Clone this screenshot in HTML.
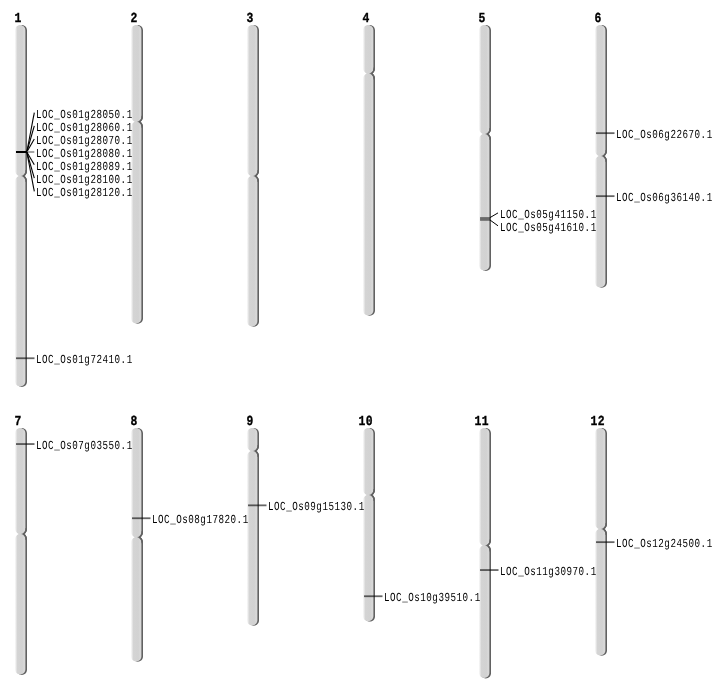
<!DOCTYPE html>
<html><head><meta charset="utf-8"><style>
html,body{margin:0;padding:0;background:#fff;width:712px;height:700px;overflow:hidden}
svg{display:block;will-change:transform;text-rendering:geometricPrecision}
.lab{font-family:"Liberation Mono",monospace;font-size:10.5px;letter-spacing:0.565px;fill:#000}
.num{font-family:"Liberation Mono",monospace;font-size:12px;letter-spacing:0.38px;font-weight:bold;fill:#000;stroke:#000;stroke-width:0.3px}
</style></head><body>
<svg width="712" height="700" viewBox="0 0 712 700">
<defs>
<linearGradient id="g" x1="0" y1="0" x2="1" y2="0">
<stop offset="0" stop-color="#fbfbfb"/>
<stop offset="0.12" stop-color="#e6e6e6"/>
<stop offset="0.24" stop-color="#d4d4d4"/>
<stop offset="0.7" stop-color="#d2d2d2"/>
<stop offset="0.85" stop-color="#d8d8d8"/>
<stop offset="1" stop-color="#d8d8d8"/>
</linearGradient>
<linearGradient id="sg" x1="0" y1="0" x2="1" y2="0">
<stop offset="0" stop-color="#626262" stop-opacity="0"/>
<stop offset="0.5" stop-color="#626262" stop-opacity="0"/>
<stop offset="0.62" stop-color="#626262" stop-opacity="1"/>
<stop offset="1" stop-color="#626262" stop-opacity="1"/>
</linearGradient>
</defs>

<clipPath id="c0"><path d="M15.00,30.20 C15.00,27.33 17.33,25.00 20.20,25.00 L21.80,25.00 C24.67,25.00 27.00,27.33 27.00,30.20 L27.00,170.90 C27.00,172.90 26.07,174.70 24.50,175.90 C26.07,177.10 27.00,178.90 27.00,180.90 L27.00,381.70 C27.00,384.57 24.67,386.90 21.80,386.90 L20.20,386.90 C17.33,386.90 15.00,384.57 15.00,381.70 L15.00,180.90 C15.00,178.90 16.37,177.10 18.70,175.90 C16.37,174.70 15.00,172.90 15.00,170.90 Z"/></clipPath>
<clipPath id="r0"><rect x="13" y="169.9" width="16" height="12"/></clipPath>
<path d="M16.60,30.20 C16.60,27.33 18.93,25.00 21.80,25.00 L21.80,25.00 C24.67,25.00 27.00,27.33 27.00,30.20 L27.00,170.90 C27.00,172.90 26.07,174.70 24.50,175.90 C26.07,177.10 27.00,178.90 27.00,180.90 L27.00,381.70 C27.00,384.57 24.67,386.90 21.80,386.90 L21.80,386.90 C18.93,386.90 16.60,384.57 16.60,381.70 L16.60,180.90 C16.60,178.90 17.97,177.10 20.30,175.90 C17.97,174.70 16.60,172.90 16.60,170.90 Z" fill="#626262"/>
<path d="M15.00,30.20 C15.00,27.33 17.33,25.00 20.20,25.00 L20.20,25.00 C23.07,25.00 25.40,27.33 25.40,30.20 L25.40,170.90 C25.40,172.90 24.66,174.70 23.40,175.90 C24.66,177.10 25.40,178.90 25.40,180.90 L25.40,381.35 C25.40,384.22 23.07,386.55 20.20,386.55 L20.20,386.55 C17.33,386.55 15.00,384.22 15.00,381.35 L15.00,180.90 C15.00,178.90 16.37,177.10 18.70,175.90 C16.37,174.70 15.00,172.90 15.00,170.90 Z" fill="url(#g)"/>
<g clip-path="url(#r0)"><path d="M15.00,30.20 C15.00,27.33 17.33,25.00 20.20,25.00 L21.80,25.00 C24.67,25.00 27.00,27.33 27.00,30.20 L27.00,170.90 C27.00,172.90 26.07,174.70 24.50,175.90 C26.07,177.10 27.00,178.90 27.00,180.90 L27.00,381.70 C27.00,384.57 24.67,386.90 21.80,386.90 L20.20,386.90 C17.33,386.90 15.00,384.57 15.00,381.70 L15.00,180.90 C15.00,178.90 16.37,177.10 18.70,175.90 C16.37,174.70 15.00,172.90 15.00,170.90 Z" fill="none" stroke="url(#sg)" stroke-width="3.2" clip-path="url(#c0)"/></g>
<text class="num" text-anchor="middle" transform="translate(18.2 22) scale(0.95 1.15)">1</text>
<clipPath id="c1"><path d="M131.00,30.20 C131.00,27.33 133.33,25.00 136.20,25.00 L137.80,25.00 C140.67,25.00 143.00,27.33 143.00,30.20 L143.00,116.70 C143.00,118.70 142.07,120.50 140.50,121.70 C142.07,122.90 143.00,124.70 143.00,126.70 L143.00,318.50 C143.00,321.37 140.67,323.70 137.80,323.70 L136.20,323.70 C133.33,323.70 131.00,321.37 131.00,318.50 L131.00,126.70 C131.00,124.70 132.37,122.90 134.70,121.70 C132.37,120.50 131.00,118.70 131.00,116.70 Z"/></clipPath>
<clipPath id="r1"><rect x="129" y="115.7" width="16" height="12"/></clipPath>
<path d="M132.60,30.20 C132.60,27.33 134.93,25.00 137.80,25.00 L137.80,25.00 C140.67,25.00 143.00,27.33 143.00,30.20 L143.00,116.70 C143.00,118.70 142.07,120.50 140.50,121.70 C142.07,122.90 143.00,124.70 143.00,126.70 L143.00,318.50 C143.00,321.37 140.67,323.70 137.80,323.70 L137.80,323.70 C134.93,323.70 132.60,321.37 132.60,318.50 L132.60,126.70 C132.60,124.70 133.97,122.90 136.30,121.70 C133.97,120.50 132.60,118.70 132.60,116.70 Z" fill="#626262"/>
<path d="M131.00,30.20 C131.00,27.33 133.33,25.00 136.20,25.00 L136.20,25.00 C139.07,25.00 141.40,27.33 141.40,30.20 L141.40,116.70 C141.40,118.70 140.66,120.50 139.40,121.70 C140.66,122.90 141.40,124.70 141.40,126.70 L141.40,318.15 C141.40,321.02 139.07,323.35 136.20,323.35 L136.20,323.35 C133.33,323.35 131.00,321.02 131.00,318.15 L131.00,126.70 C131.00,124.70 132.37,122.90 134.70,121.70 C132.37,120.50 131.00,118.70 131.00,116.70 Z" fill="url(#g)"/>
<g clip-path="url(#r1)"><path d="M131.00,30.20 C131.00,27.33 133.33,25.00 136.20,25.00 L137.80,25.00 C140.67,25.00 143.00,27.33 143.00,30.20 L143.00,116.70 C143.00,118.70 142.07,120.50 140.50,121.70 C142.07,122.90 143.00,124.70 143.00,126.70 L143.00,318.50 C143.00,321.37 140.67,323.70 137.80,323.70 L136.20,323.70 C133.33,323.70 131.00,321.37 131.00,318.50 L131.00,126.70 C131.00,124.70 132.37,122.90 134.70,121.70 C132.37,120.50 131.00,118.70 131.00,116.70 Z" fill="none" stroke="url(#sg)" stroke-width="3.2" clip-path="url(#c1)"/></g>
<text class="num" text-anchor="middle" transform="translate(134.2 22) scale(0.95 1.15)">2</text>
<clipPath id="c2"><path d="M247.00,30.20 C247.00,27.33 249.33,25.00 252.20,25.00 L253.80,25.00 C256.67,25.00 259.00,27.33 259.00,30.20 L259.00,171.10 C259.00,173.10 258.07,174.90 256.50,176.10 C258.07,177.30 259.00,179.10 259.00,181.10 L259.00,321.60 C259.00,324.47 256.67,326.80 253.80,326.80 L252.20,326.80 C249.33,326.80 247.00,324.47 247.00,321.60 L247.00,181.10 C247.00,179.10 248.37,177.30 250.70,176.10 C248.37,174.90 247.00,173.10 247.00,171.10 Z"/></clipPath>
<clipPath id="r2"><rect x="245" y="170.1" width="16" height="12"/></clipPath>
<path d="M248.60,30.20 C248.60,27.33 250.93,25.00 253.80,25.00 L253.80,25.00 C256.67,25.00 259.00,27.33 259.00,30.20 L259.00,171.10 C259.00,173.10 258.07,174.90 256.50,176.10 C258.07,177.30 259.00,179.10 259.00,181.10 L259.00,321.60 C259.00,324.47 256.67,326.80 253.80,326.80 L253.80,326.80 C250.93,326.80 248.60,324.47 248.60,321.60 L248.60,181.10 C248.60,179.10 249.97,177.30 252.30,176.10 C249.97,174.90 248.60,173.10 248.60,171.10 Z" fill="#626262"/>
<path d="M247.00,30.20 C247.00,27.33 249.33,25.00 252.20,25.00 L252.20,25.00 C255.07,25.00 257.40,27.33 257.40,30.20 L257.40,171.10 C257.40,173.10 256.66,174.90 255.40,176.10 C256.66,177.30 257.40,179.10 257.40,181.10 L257.40,321.25 C257.40,324.12 255.07,326.45 252.20,326.45 L252.20,326.45 C249.33,326.45 247.00,324.12 247.00,321.25 L247.00,181.10 C247.00,179.10 248.37,177.30 250.70,176.10 C248.37,174.90 247.00,173.10 247.00,171.10 Z" fill="url(#g)"/>
<g clip-path="url(#r2)"><path d="M247.00,30.20 C247.00,27.33 249.33,25.00 252.20,25.00 L253.80,25.00 C256.67,25.00 259.00,27.33 259.00,30.20 L259.00,171.10 C259.00,173.10 258.07,174.90 256.50,176.10 C258.07,177.30 259.00,179.10 259.00,181.10 L259.00,321.60 C259.00,324.47 256.67,326.80 253.80,326.80 L252.20,326.80 C249.33,326.80 247.00,324.47 247.00,321.60 L247.00,181.10 C247.00,179.10 248.37,177.30 250.70,176.10 C248.37,174.90 247.00,173.10 247.00,171.10 Z" fill="none" stroke="url(#sg)" stroke-width="3.2" clip-path="url(#c2)"/></g>
<text class="num" text-anchor="middle" transform="translate(250.2 22) scale(0.95 1.15)">3</text>
<clipPath id="c3"><path d="M363.00,30.20 C363.00,27.33 365.33,25.00 368.20,25.00 L369.80,25.00 C372.67,25.00 375.00,27.33 375.00,30.20 L375.00,68.60 C375.00,70.60 374.07,72.40 372.50,73.60 C374.07,74.80 375.00,76.60 375.00,78.60 L375.00,310.50 C375.00,313.37 372.67,315.70 369.80,315.70 L368.20,315.70 C365.33,315.70 363.00,313.37 363.00,310.50 L363.00,78.60 C363.00,76.60 364.37,74.80 366.70,73.60 C364.37,72.40 363.00,70.60 363.00,68.60 Z"/></clipPath>
<clipPath id="r3"><rect x="361" y="67.6" width="16" height="12"/></clipPath>
<path d="M364.60,30.20 C364.60,27.33 366.93,25.00 369.80,25.00 L369.80,25.00 C372.67,25.00 375.00,27.33 375.00,30.20 L375.00,68.60 C375.00,70.60 374.07,72.40 372.50,73.60 C374.07,74.80 375.00,76.60 375.00,78.60 L375.00,310.50 C375.00,313.37 372.67,315.70 369.80,315.70 L369.80,315.70 C366.93,315.70 364.60,313.37 364.60,310.50 L364.60,78.60 C364.60,76.60 365.97,74.80 368.30,73.60 C365.97,72.40 364.60,70.60 364.60,68.60 Z" fill="#626262"/>
<path d="M363.00,30.20 C363.00,27.33 365.33,25.00 368.20,25.00 L368.20,25.00 C371.07,25.00 373.40,27.33 373.40,30.20 L373.40,68.60 C373.40,70.60 372.66,72.40 371.40,73.60 C372.66,74.80 373.40,76.60 373.40,78.60 L373.40,310.15 C373.40,313.02 371.07,315.35 368.20,315.35 L368.20,315.35 C365.33,315.35 363.00,313.02 363.00,310.15 L363.00,78.60 C363.00,76.60 364.37,74.80 366.70,73.60 C364.37,72.40 363.00,70.60 363.00,68.60 Z" fill="url(#g)"/>
<g clip-path="url(#r3)"><path d="M363.00,30.20 C363.00,27.33 365.33,25.00 368.20,25.00 L369.80,25.00 C372.67,25.00 375.00,27.33 375.00,30.20 L375.00,68.60 C375.00,70.60 374.07,72.40 372.50,73.60 C374.07,74.80 375.00,76.60 375.00,78.60 L375.00,310.50 C375.00,313.37 372.67,315.70 369.80,315.70 L368.20,315.70 C365.33,315.70 363.00,313.37 363.00,310.50 L363.00,78.60 C363.00,76.60 364.37,74.80 366.70,73.60 C364.37,72.40 363.00,70.60 363.00,68.60 Z" fill="none" stroke="url(#sg)" stroke-width="3.2" clip-path="url(#c3)"/></g>
<text class="num" text-anchor="middle" transform="translate(366.2 22) scale(0.95 1.15)">4</text>
<clipPath id="c4"><path d="M479.00,30.20 C479.00,27.33 481.33,25.00 484.20,25.00 L485.80,25.00 C488.67,25.00 491.00,27.33 491.00,30.20 L491.00,129.00 C491.00,131.00 490.07,132.80 488.50,134.00 C490.07,135.20 491.00,137.00 491.00,139.00 L491.00,265.70 C491.00,268.57 488.67,270.90 485.80,270.90 L484.20,270.90 C481.33,270.90 479.00,268.57 479.00,265.70 L479.00,139.00 C479.00,137.00 480.37,135.20 482.70,134.00 C480.37,132.80 479.00,131.00 479.00,129.00 Z"/></clipPath>
<clipPath id="r4"><rect x="477" y="128.0" width="16" height="12"/></clipPath>
<path d="M480.60,30.20 C480.60,27.33 482.93,25.00 485.80,25.00 L485.80,25.00 C488.67,25.00 491.00,27.33 491.00,30.20 L491.00,129.00 C491.00,131.00 490.07,132.80 488.50,134.00 C490.07,135.20 491.00,137.00 491.00,139.00 L491.00,265.70 C491.00,268.57 488.67,270.90 485.80,270.90 L485.80,270.90 C482.93,270.90 480.60,268.57 480.60,265.70 L480.60,139.00 C480.60,137.00 481.97,135.20 484.30,134.00 C481.97,132.80 480.60,131.00 480.60,129.00 Z" fill="#626262"/>
<path d="M479.00,30.20 C479.00,27.33 481.33,25.00 484.20,25.00 L484.20,25.00 C487.07,25.00 489.40,27.33 489.40,30.20 L489.40,129.00 C489.40,131.00 488.66,132.80 487.40,134.00 C488.66,135.20 489.40,137.00 489.40,139.00 L489.40,265.35 C489.40,268.22 487.07,270.55 484.20,270.55 L484.20,270.55 C481.33,270.55 479.00,268.22 479.00,265.35 L479.00,139.00 C479.00,137.00 480.37,135.20 482.70,134.00 C480.37,132.80 479.00,131.00 479.00,129.00 Z" fill="url(#g)"/>
<g clip-path="url(#r4)"><path d="M479.00,30.20 C479.00,27.33 481.33,25.00 484.20,25.00 L485.80,25.00 C488.67,25.00 491.00,27.33 491.00,30.20 L491.00,129.00 C491.00,131.00 490.07,132.80 488.50,134.00 C490.07,135.20 491.00,137.00 491.00,139.00 L491.00,265.70 C491.00,268.57 488.67,270.90 485.80,270.90 L484.20,270.90 C481.33,270.90 479.00,268.57 479.00,265.70 L479.00,139.00 C479.00,137.00 480.37,135.20 482.70,134.00 C480.37,132.80 479.00,131.00 479.00,129.00 Z" fill="none" stroke="url(#sg)" stroke-width="3.2" clip-path="url(#c4)"/></g>
<text class="num" text-anchor="middle" transform="translate(482.2 22) scale(0.95 1.15)">5</text>
<clipPath id="c5"><path d="M595.00,30.20 C595.00,27.33 597.33,25.00 600.20,25.00 L601.80,25.00 C604.67,25.00 607.00,27.33 607.00,30.20 L607.00,151.10 C607.00,153.10 606.08,154.90 604.50,156.10 C606.08,157.30 607.00,159.10 607.00,161.10 L607.00,282.50 C607.00,285.37 604.67,287.70 601.80,287.70 L600.20,287.70 C597.33,287.70 595.00,285.37 595.00,282.50 L595.00,161.10 C595.00,159.10 596.37,157.30 598.70,156.10 C596.37,154.90 595.00,153.10 595.00,151.10 Z"/></clipPath>
<clipPath id="r5"><rect x="593" y="150.1" width="16" height="12"/></clipPath>
<path d="M596.60,30.20 C596.60,27.33 598.93,25.00 601.80,25.00 L601.80,25.00 C604.67,25.00 607.00,27.33 607.00,30.20 L607.00,151.10 C607.00,153.10 606.08,154.90 604.50,156.10 C606.08,157.30 607.00,159.10 607.00,161.10 L607.00,282.50 C607.00,285.37 604.67,287.70 601.80,287.70 L601.80,287.70 C598.93,287.70 596.60,285.37 596.60,282.50 L596.60,161.10 C596.60,159.10 597.97,157.30 600.30,156.10 C597.97,154.90 596.60,153.10 596.60,151.10 Z" fill="#626262"/>
<path d="M595.00,30.20 C595.00,27.33 597.33,25.00 600.20,25.00 L600.20,25.00 C603.07,25.00 605.40,27.33 605.40,30.20 L605.40,151.10 C605.40,153.10 604.66,154.90 603.40,156.10 C604.66,157.30 605.40,159.10 605.40,161.10 L605.40,282.15 C605.40,285.02 603.07,287.35 600.20,287.35 L600.20,287.35 C597.33,287.35 595.00,285.02 595.00,282.15 L595.00,161.10 C595.00,159.10 596.37,157.30 598.70,156.10 C596.37,154.90 595.00,153.10 595.00,151.10 Z" fill="url(#g)"/>
<g clip-path="url(#r5)"><path d="M595.00,30.20 C595.00,27.33 597.33,25.00 600.20,25.00 L601.80,25.00 C604.67,25.00 607.00,27.33 607.00,30.20 L607.00,151.10 C607.00,153.10 606.08,154.90 604.50,156.10 C606.08,157.30 607.00,159.10 607.00,161.10 L607.00,282.50 C607.00,285.37 604.67,287.70 601.80,287.70 L600.20,287.70 C597.33,287.70 595.00,285.37 595.00,282.50 L595.00,161.10 C595.00,159.10 596.37,157.30 598.70,156.10 C596.37,154.90 595.00,153.10 595.00,151.10 Z" fill="none" stroke="url(#sg)" stroke-width="3.2" clip-path="url(#c5)"/></g>
<text class="num" text-anchor="middle" transform="translate(598.2 22) scale(0.95 1.15)">6</text>
<clipPath id="c6"><path d="M15.00,433.20 C15.00,430.33 17.33,428.00 20.20,428.00 L21.80,428.00 C24.67,428.00 27.00,430.33 27.00,433.20 L27.00,528.90 C27.00,530.90 26.07,532.70 24.50,533.90 C26.07,535.10 27.00,536.90 27.00,538.90 L27.00,669.70 C27.00,672.57 24.67,674.90 21.80,674.90 L20.20,674.90 C17.33,674.90 15.00,672.57 15.00,669.70 L15.00,538.90 C15.00,536.90 16.37,535.10 18.70,533.90 C16.37,532.70 15.00,530.90 15.00,528.90 Z"/></clipPath>
<clipPath id="r6"><rect x="13" y="527.9" width="16" height="12"/></clipPath>
<path d="M16.60,433.20 C16.60,430.33 18.93,428.00 21.80,428.00 L21.80,428.00 C24.67,428.00 27.00,430.33 27.00,433.20 L27.00,528.90 C27.00,530.90 26.07,532.70 24.50,533.90 C26.07,535.10 27.00,536.90 27.00,538.90 L27.00,669.70 C27.00,672.57 24.67,674.90 21.80,674.90 L21.80,674.90 C18.93,674.90 16.60,672.57 16.60,669.70 L16.60,538.90 C16.60,536.90 17.97,535.10 20.30,533.90 C17.97,532.70 16.60,530.90 16.60,528.90 Z" fill="#626262"/>
<path d="M15.00,433.20 C15.00,430.33 17.33,428.00 20.20,428.00 L20.20,428.00 C23.07,428.00 25.40,430.33 25.40,433.20 L25.40,528.90 C25.40,530.90 24.66,532.70 23.40,533.90 C24.66,535.10 25.40,536.90 25.40,538.90 L25.40,669.35 C25.40,672.22 23.07,674.55 20.20,674.55 L20.20,674.55 C17.33,674.55 15.00,672.22 15.00,669.35 L15.00,538.90 C15.00,536.90 16.37,535.10 18.70,533.90 C16.37,532.70 15.00,530.90 15.00,528.90 Z" fill="url(#g)"/>
<g clip-path="url(#r6)"><path d="M15.00,433.20 C15.00,430.33 17.33,428.00 20.20,428.00 L21.80,428.00 C24.67,428.00 27.00,430.33 27.00,433.20 L27.00,528.90 C27.00,530.90 26.07,532.70 24.50,533.90 C26.07,535.10 27.00,536.90 27.00,538.90 L27.00,669.70 C27.00,672.57 24.67,674.90 21.80,674.90 L20.20,674.90 C17.33,674.90 15.00,672.57 15.00,669.70 L15.00,538.90 C15.00,536.90 16.37,535.10 18.70,533.90 C16.37,532.70 15.00,530.90 15.00,528.90 Z" fill="none" stroke="url(#sg)" stroke-width="3.2" clip-path="url(#c6)"/></g>
<text class="num" text-anchor="middle" transform="translate(18.2 425) scale(0.95 1.15)">7</text>
<clipPath id="c7"><path d="M131.00,433.20 C131.00,430.33 133.33,428.00 136.20,428.00 L137.80,428.00 C140.67,428.00 143.00,430.33 143.00,433.20 L143.00,532.20 C143.00,534.20 142.07,536.00 140.50,537.20 C142.07,538.40 143.00,540.20 143.00,542.20 L143.00,656.50 C143.00,659.37 140.67,661.70 137.80,661.70 L136.20,661.70 C133.33,661.70 131.00,659.37 131.00,656.50 L131.00,542.20 C131.00,540.20 132.37,538.40 134.70,537.20 C132.37,536.00 131.00,534.20 131.00,532.20 Z"/></clipPath>
<clipPath id="r7"><rect x="129" y="531.2" width="16" height="12"/></clipPath>
<path d="M132.60,433.20 C132.60,430.33 134.93,428.00 137.80,428.00 L137.80,428.00 C140.67,428.00 143.00,430.33 143.00,433.20 L143.00,532.20 C143.00,534.20 142.07,536.00 140.50,537.20 C142.07,538.40 143.00,540.20 143.00,542.20 L143.00,656.50 C143.00,659.37 140.67,661.70 137.80,661.70 L137.80,661.70 C134.93,661.70 132.60,659.37 132.60,656.50 L132.60,542.20 C132.60,540.20 133.97,538.40 136.30,537.20 C133.97,536.00 132.60,534.20 132.60,532.20 Z" fill="#626262"/>
<path d="M131.00,433.20 C131.00,430.33 133.33,428.00 136.20,428.00 L136.20,428.00 C139.07,428.00 141.40,430.33 141.40,433.20 L141.40,532.20 C141.40,534.20 140.66,536.00 139.40,537.20 C140.66,538.40 141.40,540.20 141.40,542.20 L141.40,656.15 C141.40,659.02 139.07,661.35 136.20,661.35 L136.20,661.35 C133.33,661.35 131.00,659.02 131.00,656.15 L131.00,542.20 C131.00,540.20 132.37,538.40 134.70,537.20 C132.37,536.00 131.00,534.20 131.00,532.20 Z" fill="url(#g)"/>
<g clip-path="url(#r7)"><path d="M131.00,433.20 C131.00,430.33 133.33,428.00 136.20,428.00 L137.80,428.00 C140.67,428.00 143.00,430.33 143.00,433.20 L143.00,532.20 C143.00,534.20 142.07,536.00 140.50,537.20 C142.07,538.40 143.00,540.20 143.00,542.20 L143.00,656.50 C143.00,659.37 140.67,661.70 137.80,661.70 L136.20,661.70 C133.33,661.70 131.00,659.37 131.00,656.50 L131.00,542.20 C131.00,540.20 132.37,538.40 134.70,537.20 C132.37,536.00 131.00,534.20 131.00,532.20 Z" fill="none" stroke="url(#sg)" stroke-width="3.2" clip-path="url(#c7)"/></g>
<text class="num" text-anchor="middle" transform="translate(134.2 425) scale(0.95 1.15)">8</text>
<clipPath id="c8"><path d="M247.00,433.20 C247.00,430.33 249.33,428.00 252.20,428.00 L253.80,428.00 C256.67,428.00 259.00,430.33 259.00,433.20 L259.00,445.90 C259.00,447.90 258.07,449.70 256.50,450.90 C258.07,452.10 259.00,453.90 259.00,455.90 L259.00,620.50 C259.00,623.37 256.67,625.70 253.80,625.70 L252.20,625.70 C249.33,625.70 247.00,623.37 247.00,620.50 L247.00,455.90 C247.00,453.90 248.37,452.10 250.70,450.90 C248.37,449.70 247.00,447.90 247.00,445.90 Z"/></clipPath>
<clipPath id="r8"><rect x="245" y="444.9" width="16" height="12"/></clipPath>
<path d="M248.60,433.20 C248.60,430.33 250.93,428.00 253.80,428.00 L253.80,428.00 C256.67,428.00 259.00,430.33 259.00,433.20 L259.00,445.90 C259.00,447.90 258.07,449.70 256.50,450.90 C258.07,452.10 259.00,453.90 259.00,455.90 L259.00,620.50 C259.00,623.37 256.67,625.70 253.80,625.70 L253.80,625.70 C250.93,625.70 248.60,623.37 248.60,620.50 L248.60,455.90 C248.60,453.90 249.97,452.10 252.30,450.90 C249.97,449.70 248.60,447.90 248.60,445.90 Z" fill="#626262"/>
<path d="M247.00,433.20 C247.00,430.33 249.33,428.00 252.20,428.00 L252.20,428.00 C255.07,428.00 257.40,430.33 257.40,433.20 L257.40,445.90 C257.40,447.90 256.66,449.70 255.40,450.90 C256.66,452.10 257.40,453.90 257.40,455.90 L257.40,620.15 C257.40,623.02 255.07,625.35 252.20,625.35 L252.20,625.35 C249.33,625.35 247.00,623.02 247.00,620.15 L247.00,455.90 C247.00,453.90 248.37,452.10 250.70,450.90 C248.37,449.70 247.00,447.90 247.00,445.90 Z" fill="url(#g)"/>
<g clip-path="url(#r8)"><path d="M247.00,433.20 C247.00,430.33 249.33,428.00 252.20,428.00 L253.80,428.00 C256.67,428.00 259.00,430.33 259.00,433.20 L259.00,445.90 C259.00,447.90 258.07,449.70 256.50,450.90 C258.07,452.10 259.00,453.90 259.00,455.90 L259.00,620.50 C259.00,623.37 256.67,625.70 253.80,625.70 L252.20,625.70 C249.33,625.70 247.00,623.37 247.00,620.50 L247.00,455.90 C247.00,453.90 248.37,452.10 250.70,450.90 C248.37,449.70 247.00,447.90 247.00,445.90 Z" fill="none" stroke="url(#sg)" stroke-width="3.2" clip-path="url(#c8)"/></g>
<text class="num" text-anchor="middle" transform="translate(250.2 425) scale(0.95 1.15)">9</text>
<clipPath id="c9"><path d="M363.00,433.20 C363.00,430.33 365.33,428.00 368.20,428.00 L369.80,428.00 C372.67,428.00 375.00,430.33 375.00,433.20 L375.00,490.00 C375.00,492.00 374.07,493.80 372.50,495.00 C374.07,496.20 375.00,498.00 375.00,500.00 L375.00,616.40 C375.00,619.27 372.67,621.60 369.80,621.60 L368.20,621.60 C365.33,621.60 363.00,619.27 363.00,616.40 L363.00,500.00 C363.00,498.00 364.37,496.20 366.70,495.00 C364.37,493.80 363.00,492.00 363.00,490.00 Z"/></clipPath>
<clipPath id="r9"><rect x="361" y="489.0" width="16" height="12"/></clipPath>
<path d="M364.60,433.20 C364.60,430.33 366.93,428.00 369.80,428.00 L369.80,428.00 C372.67,428.00 375.00,430.33 375.00,433.20 L375.00,490.00 C375.00,492.00 374.07,493.80 372.50,495.00 C374.07,496.20 375.00,498.00 375.00,500.00 L375.00,616.40 C375.00,619.27 372.67,621.60 369.80,621.60 L369.80,621.60 C366.93,621.60 364.60,619.27 364.60,616.40 L364.60,500.00 C364.60,498.00 365.97,496.20 368.30,495.00 C365.97,493.80 364.60,492.00 364.60,490.00 Z" fill="#626262"/>
<path d="M363.00,433.20 C363.00,430.33 365.33,428.00 368.20,428.00 L368.20,428.00 C371.07,428.00 373.40,430.33 373.40,433.20 L373.40,490.00 C373.40,492.00 372.66,493.80 371.40,495.00 C372.66,496.20 373.40,498.00 373.40,500.00 L373.40,616.05 C373.40,618.92 371.07,621.25 368.20,621.25 L368.20,621.25 C365.33,621.25 363.00,618.92 363.00,616.05 L363.00,500.00 C363.00,498.00 364.37,496.20 366.70,495.00 C364.37,493.80 363.00,492.00 363.00,490.00 Z" fill="url(#g)"/>
<g clip-path="url(#r9)"><path d="M363.00,433.20 C363.00,430.33 365.33,428.00 368.20,428.00 L369.80,428.00 C372.67,428.00 375.00,430.33 375.00,433.20 L375.00,490.00 C375.00,492.00 374.07,493.80 372.50,495.00 C374.07,496.20 375.00,498.00 375.00,500.00 L375.00,616.40 C375.00,619.27 372.67,621.60 369.80,621.60 L368.20,621.60 C365.33,621.60 363.00,619.27 363.00,616.40 L363.00,500.00 C363.00,498.00 364.37,496.20 366.70,495.00 C364.37,493.80 363.00,492.00 363.00,490.00 Z" fill="none" stroke="url(#sg)" stroke-width="3.2" clip-path="url(#c9)"/></g>
<text class="num" text-anchor="middle" transform="translate(365.8 425) scale(0.95 1.15)">10</text>
<clipPath id="c10"><path d="M479.00,433.20 C479.00,430.33 481.33,428.00 484.20,428.00 L485.80,428.00 C488.67,428.00 491.00,430.33 491.00,433.20 L491.00,540.60 C491.00,542.60 490.07,544.40 488.50,545.60 C490.07,546.80 491.00,548.60 491.00,550.60 L491.00,673.20 C491.00,676.07 488.67,678.40 485.80,678.40 L484.20,678.40 C481.33,678.40 479.00,676.07 479.00,673.20 L479.00,550.60 C479.00,548.60 480.37,546.80 482.70,545.60 C480.37,544.40 479.00,542.60 479.00,540.60 Z"/></clipPath>
<clipPath id="r10"><rect x="477" y="539.6" width="16" height="12"/></clipPath>
<path d="M480.60,433.20 C480.60,430.33 482.93,428.00 485.80,428.00 L485.80,428.00 C488.67,428.00 491.00,430.33 491.00,433.20 L491.00,540.60 C491.00,542.60 490.07,544.40 488.50,545.60 C490.07,546.80 491.00,548.60 491.00,550.60 L491.00,673.20 C491.00,676.07 488.67,678.40 485.80,678.40 L485.80,678.40 C482.93,678.40 480.60,676.07 480.60,673.20 L480.60,550.60 C480.60,548.60 481.97,546.80 484.30,545.60 C481.97,544.40 480.60,542.60 480.60,540.60 Z" fill="#626262"/>
<path d="M479.00,433.20 C479.00,430.33 481.33,428.00 484.20,428.00 L484.20,428.00 C487.07,428.00 489.40,430.33 489.40,433.20 L489.40,540.60 C489.40,542.60 488.66,544.40 487.40,545.60 C488.66,546.80 489.40,548.60 489.40,550.60 L489.40,672.85 C489.40,675.72 487.07,678.05 484.20,678.05 L484.20,678.05 C481.33,678.05 479.00,675.72 479.00,672.85 L479.00,550.60 C479.00,548.60 480.37,546.80 482.70,545.60 C480.37,544.40 479.00,542.60 479.00,540.60 Z" fill="url(#g)"/>
<g clip-path="url(#r10)"><path d="M479.00,433.20 C479.00,430.33 481.33,428.00 484.20,428.00 L485.80,428.00 C488.67,428.00 491.00,430.33 491.00,433.20 L491.00,540.60 C491.00,542.60 490.07,544.40 488.50,545.60 C490.07,546.80 491.00,548.60 491.00,550.60 L491.00,673.20 C491.00,676.07 488.67,678.40 485.80,678.40 L484.20,678.40 C481.33,678.40 479.00,676.07 479.00,673.20 L479.00,550.60 C479.00,548.60 480.37,546.80 482.70,545.60 C480.37,544.40 479.00,542.60 479.00,540.60 Z" fill="none" stroke="url(#sg)" stroke-width="3.2" clip-path="url(#c10)"/></g>
<text class="num" text-anchor="middle" transform="translate(481.8 425) scale(0.95 1.15)">11</text>
<clipPath id="c11"><path d="M595.00,433.20 C595.00,430.33 597.33,428.00 600.20,428.00 L601.80,428.00 C604.67,428.00 607.00,430.33 607.00,433.20 L607.00,523.90 C607.00,525.90 606.08,527.70 604.50,528.90 C606.08,530.10 607.00,531.90 607.00,533.90 L607.00,650.50 C607.00,653.37 604.67,655.70 601.80,655.70 L600.20,655.70 C597.33,655.70 595.00,653.37 595.00,650.50 L595.00,533.90 C595.00,531.90 596.37,530.10 598.70,528.90 C596.37,527.70 595.00,525.90 595.00,523.90 Z"/></clipPath>
<clipPath id="r11"><rect x="593" y="522.9" width="16" height="12"/></clipPath>
<path d="M596.60,433.20 C596.60,430.33 598.93,428.00 601.80,428.00 L601.80,428.00 C604.67,428.00 607.00,430.33 607.00,433.20 L607.00,523.90 C607.00,525.90 606.08,527.70 604.50,528.90 C606.08,530.10 607.00,531.90 607.00,533.90 L607.00,650.50 C607.00,653.37 604.67,655.70 601.80,655.70 L601.80,655.70 C598.93,655.70 596.60,653.37 596.60,650.50 L596.60,533.90 C596.60,531.90 597.97,530.10 600.30,528.90 C597.97,527.70 596.60,525.90 596.60,523.90 Z" fill="#626262"/>
<path d="M595.00,433.20 C595.00,430.33 597.33,428.00 600.20,428.00 L600.20,428.00 C603.07,428.00 605.40,430.33 605.40,433.20 L605.40,523.90 C605.40,525.90 604.66,527.70 603.40,528.90 C604.66,530.10 605.40,531.90 605.40,533.90 L605.40,650.15 C605.40,653.02 603.07,655.35 600.20,655.35 L600.20,655.35 C597.33,655.35 595.00,653.02 595.00,650.15 L595.00,533.90 C595.00,531.90 596.37,530.10 598.70,528.90 C596.37,527.70 595.00,525.90 595.00,523.90 Z" fill="url(#g)"/>
<g clip-path="url(#r11)"><path d="M595.00,433.20 C595.00,430.33 597.33,428.00 600.20,428.00 L601.80,428.00 C604.67,428.00 607.00,430.33 607.00,433.20 L607.00,523.90 C607.00,525.90 606.08,527.70 604.50,528.90 C606.08,530.10 607.00,531.90 607.00,533.90 L607.00,650.50 C607.00,653.37 604.67,655.70 601.80,655.70 L600.20,655.70 C597.33,655.70 595.00,653.37 595.00,650.50 L595.00,533.90 C595.00,531.90 596.37,530.10 598.70,528.90 C596.37,527.70 595.00,525.90 595.00,523.90 Z" fill="none" stroke="url(#sg)" stroke-width="3.2" clip-path="url(#c11)"/></g>
<text class="num" text-anchor="middle" transform="translate(597.8 425) scale(0.95 1.15)">12</text>
<line x1="16" y1="358.25" x2="34.5" y2="358.25" stroke="#000" stroke-opacity="0.6" stroke-width="1.8"/>
<text class="lab" transform="translate(36.0 362.70) scale(0.88 1.17)">LOC_Os01g72410.1</text>
<line x1="596" y1="133.15" x2="614.5" y2="133.15" stroke="#000" stroke-opacity="0.6" stroke-width="1.8"/>
<text class="lab" transform="translate(616.0 137.60) scale(0.88 1.17)">LOC_Os06g22670.1</text>
<line x1="596" y1="196.15" x2="614.5" y2="196.15" stroke="#000" stroke-opacity="0.6" stroke-width="1.8"/>
<text class="lab" transform="translate(616.0 200.60) scale(0.88 1.17)">LOC_Os06g36140.1</text>
<line x1="16" y1="444.05" x2="34.5" y2="444.05" stroke="#000" stroke-opacity="0.6" stroke-width="1.8"/>
<text class="lab" transform="translate(36.0 448.50) scale(0.88 1.17)">LOC_Os07g03550.1</text>
<line x1="132" y1="518.25" x2="150.5" y2="518.25" stroke="#000" stroke-opacity="0.6" stroke-width="1.8"/>
<text class="lab" transform="translate(152.0 522.70) scale(0.88 1.17)">LOC_Os08g17820.1</text>
<line x1="248" y1="505.35" x2="266.5" y2="505.35" stroke="#000" stroke-opacity="0.6" stroke-width="1.8"/>
<text class="lab" transform="translate(268.0 509.80) scale(0.88 1.17)">LOC_Os09g15130.1</text>
<line x1="364" y1="596.25" x2="382.5" y2="596.25" stroke="#000" stroke-opacity="0.6" stroke-width="1.8"/>
<text class="lab" transform="translate(384.0 600.70) scale(0.88 1.17)">LOC_Os10g39510.1</text>
<line x1="480" y1="570.05" x2="498.5" y2="570.05" stroke="#000" stroke-opacity="0.6" stroke-width="1.8"/>
<text class="lab" transform="translate(500.0 574.50) scale(0.88 1.17)">LOC_Os11g30970.1</text>
<line x1="596" y1="542.15" x2="614.5" y2="542.15" stroke="#000" stroke-opacity="0.6" stroke-width="1.8"/>
<text class="lab" transform="translate(616.0 546.60) scale(0.88 1.17)">LOC_Os12g24500.1</text>
<line x1="16" y1="152" x2="27" y2="152" stroke="#000" stroke-width="2"/>
<line x1="26.8" y1="152" x2="34.3" y2="112.7" stroke="#000" stroke-width="1.1"/>
<text class="lab" transform="translate(36.0 117.60000000000001) scale(0.88 1.17)">LOC_Os01g28050.1</text>
<line x1="26.8" y1="152" x2="34.3" y2="125.9" stroke="#000" stroke-width="1.1"/>
<text class="lab" transform="translate(36.0 130.8) scale(0.88 1.17)">LOC_Os01g28060.1</text>
<line x1="26.8" y1="152" x2="34.3" y2="139.0" stroke="#000" stroke-width="1.1"/>
<text class="lab" transform="translate(36.0 143.9) scale(0.88 1.17)">LOC_Os01g28070.1</text>
<line x1="27" y1="152" x2="34.3" y2="152" stroke="#888" stroke-width="1.5"/>
<text class="lab" transform="translate(36.0 156.70000000000002) scale(0.88 1.17)">LOC_Os01g28080.1</text>
<line x1="26.8" y1="152" x2="34.3" y2="164.8" stroke="#000" stroke-width="1.1"/>
<text class="lab" transform="translate(36.0 169.70000000000002) scale(0.88 1.17)">LOC_Os01g28089.1</text>
<line x1="26.8" y1="152" x2="34.3" y2="178.1" stroke="#000" stroke-width="1.1"/>
<text class="lab" transform="translate(36.0 183.0) scale(0.88 1.17)">LOC_Os01g28100.1</text>
<line x1="26.8" y1="152" x2="34.3" y2="191.4" stroke="#000" stroke-width="1.1"/>
<text class="lab" transform="translate(36.0 196.3) scale(0.88 1.17)">LOC_Os01g28120.1</text>
<rect x="480" y="217.1" width="10.2" height="3.7" fill="#000" fill-opacity="0.5"/>
<line x1="490" y1="217.6" x2="498" y2="212.9" stroke="#000" stroke-width="1"/>
<line x1="490" y1="220" x2="498" y2="225.8" stroke="#000" stroke-width="1"/>
<text class="lab" transform="translate(500.0 217.5) scale(0.88 1.17)">LOC_Os05g41150.1</text>
<text class="lab" transform="translate(500.0 230.5) scale(0.88 1.17)">LOC_Os05g41610.1</text>
</svg></body></html>
